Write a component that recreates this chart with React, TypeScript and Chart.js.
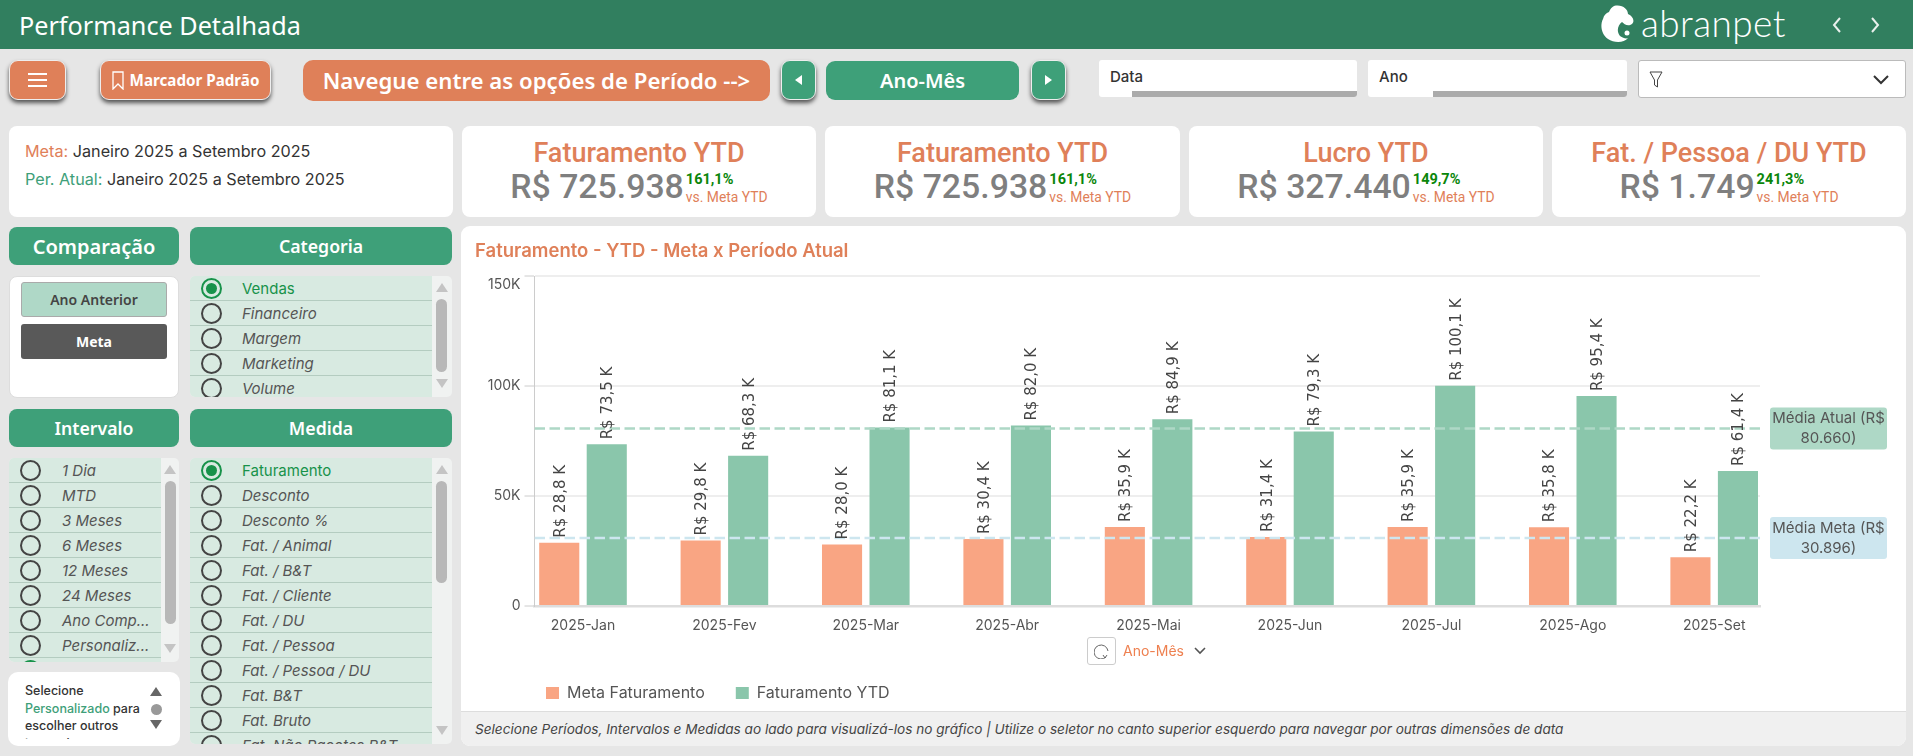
import { useEffect, useRef } from 'react';
import type { CSSProperties, ReactNode } from 'react';
import { Chart, registerables } from 'chart.js';

Chart.register(...registerables);

const meses = ['2025-Jan', '2025-Fev', '2025-Mar', '2025-Abr', '2025-Mai', '2025-Jun', '2025-Jul', '2025-Ago', '2025-Set'];
const metaFaturamento = [28.8, 29.8, 28.0, 30.4, 35.9, 31.4, 35.9, 35.8, 22.2];
const faturamentoYtd = [73.5, 68.3, 81.1, 82.0, 84.9, 79.3, 100.1, 95.4, 61.4];
const mediaAtual = 80.66;
const mediaMeta = 30.896;
const mediaAtualTexto = ['Média Atual (R$', '80.660)'];
const mediaMetaTexto = ['Média Meta (R$', '30.896)'];

const categorias = ['Vendas', 'Financeiro', 'Margem', 'Marketing', 'Volume'];
const intervalos = ['1 Dia', 'MTD', '3 Meses', '6 Meses', '12 Meses', '24 Meses', 'Ano Comp...', 'Personaliz...', ''];
const medidas = ['Faturamento', 'Desconto', 'Desconto %', 'Fat. / Animal', 'Fat. / B&T', 'Fat. / Cliente', 'Fat. / DU', 'Fat. / Pessoa', 'Fat. / Pessoa / DU', 'Fat. B&T', 'Fat. Bruto', 'Fat. Não Pacotes B&T'];

const kpis = [
    { titulo: 'Faturamento YTD', valor: 'R$ 725.938', pct: '161,1%', left: 462, width: 354 },
    { titulo: 'Faturamento YTD', valor: 'R$ 725.938', pct: '161,1%', left: 825, width: 355 },
    { titulo: 'Lucro YTD', valor: 'R$ 327.440', pct: '149,7%', left: 1189, width: 354 },
    { titulo: 'Fat. / Pessoa / DU YTD', valor: 'R$ 1.749', pct: '241,3%', left: 1552, width: 354 },
];

const LARANJA = '#DF8059';
const VERDE = '#3EA079';
const UI = 'Inter, sans-serif';
const NOTO = '"Noto Sans", sans-serif';
const X_MIN = -0.343;
const X_MAX = 8.324;

function Box({ l, t, w, h, style, children }: { l: number; t: number; w: number; h: number; style?: CSSProperties; children?: ReactNode }) {
    return <div style={{ position: 'absolute', left: l, top: t, width: w, height: h, boxSizing: 'border-box', ...style }}>{children}</div>;
}

function Centro({ l, t, w, h, style, children }: { l: number; t: number; w: number; h: number; style?: CSSProperties; children?: ReactNode }) {
    return <Box l={l} t={t} w={w} h={h} style={{ display: 'flex', alignItems: 'center', justifyContent: 'center', ...style }}>{children}</Box>;
}

const sombra: CSSProperties = { boxShadow: '0 3px 4px #555', border: '1px solid #eee' };

function Seta({ x, y, cima, cor = '#c4c4c4' }: { x: number; y: number; cima: boolean; cor?: string }) {
    return <div style={{
        position: 'absolute', left: x - 6, top: y - 4, width: 0, height: 0,
        borderLeft: '6px solid transparent', borderRight: '6px solid transparent',
        ...(cima ? { borderBottom: `9px solid ${cor}` } : { borderTop: `9px solid ${cor}` }),
    }} />;
}

function Lista({ l, t, w, h, itens, radioX, textoX, barra, thumbTop, thumbH, setaBaixo, selecionado }: {
    l: number; t: number; w: number; h: number; itens: string[]; radioX: number; textoX: number; barra: number;
    thumbTop: number; thumbH: number; setaBaixo: number; selecionado: number;
}) {
    return (
        <Box l={l} t={t} w={w} h={h} style={{ overflow: 'hidden', borderRadius: 5, background: '#F0F2F1' }}>
            {itens.map((item, i) => {
                const ativo = i === selecionado;
                return (
                    <div key={i} style={{ position: 'absolute', left: 0, top: i * 25, width: w - barra, height: 25, boxSizing: 'border-box', background: '#D8EAE1', borderBottom: '1px solid #B4CCC0' }}>
                        <div style={{ position: 'absolute', left: radioX - 11, top: 1.5, width: 21, height: 21, boxSizing: 'border-box', borderRadius: '50%', border: `2px solid ${ativo ? '#17924A' : '#444'}` }}>
                            {ativo && <div style={{ position: 'absolute', left: 3, top: 3, width: 11, height: 11, borderRadius: '50%', background: '#17924A' }} />}
                        </div>
                        <div style={{ position: 'absolute', left: textoX, top: 3, fontFamily: UI, fontSize: 15, lineHeight: '20px', whiteSpace: 'nowrap', fontStyle: ativo ? 'normal' : 'italic', color: ativo ? '#17924A' : '#555' }}>{item}</div>
                    </div>
                );
            })}
            <Seta x={w - barra / 2} y={11} cima />
            <div style={{ position: 'absolute', left: w - barra + 4, top: thumbTop, width: 11, height: thumbH, borderRadius: 6, background: '#B8B8B8' }} />
            <Seta x={w - barra / 2} y={setaBaixo} cima={false} />
        </Box>
    );
}

function Cabecalho({ l, t, w, texto, tamanho = 17.7 }: { l: number; t: number; w: number; texto: string; tamanho?: number }) {
    return <Centro l={l} t={t} w={w} h={38} style={{ background: VERDE, borderRadius: 8, color: '#fff', fontFamily: NOTO, fontWeight: 600, fontSize: tamanho }}>{texto}</Centro>;
}

export default function App() {
    const canvasRef = useRef<HTMLCanvasElement>(null);

    useEffect(() => {
        if (!canvasRef.current) return;

        // rótulos das barras e caixas das médias, desenhados sobre as escalas
        const rotulos = {
            id: 'rotulos',
            afterLayout(chart: any) {
                chart.legend.left = 54;
                chart.legend.top = 428;
            },
            afterDatasetsDraw(chart: any) {
                const ctx = chart.ctx;
                ctx.save();
                ctx.fillStyle = '#444';
                ctx.font = '15px "DejaVu Sans"';
                ctx.textAlign = 'left';
                ctx.textBaseline = 'middle';
                [0, 1].forEach((d) => {
                    chart.getDatasetMeta(d).data.forEach((bar: any, i: number) => {
                        const v = chart.data.datasets[d].data[i].y;
                        ctx.save();
                        ctx.translate(bar.x, bar.y - 5);
                        ctx.rotate(-Math.PI / 2);
                        ctx.fillText(`R$ ${v.toFixed(1).replace('.', ',')} K`, 0, 1.5);
                        ctx.restore();
                    });
                });
                const caixa = (valor: number, linhas: string[], cor: string) => {
                    const y = chart.scales.y.getPixelForValue(valor);
                    const x = chart.chartArea.right + 10;
                    ctx.fillStyle = cor;
                    ctx.beginPath();
                    ctx.roundRect(x, y - 21, 117, 42, 3);
                    ctx.fill();
                    ctx.fillStyle = '#555';
                    ctx.font = '15px Inter';
                    ctx.textAlign = 'center';
                    ctx.fillText(linhas[0], x + 58.5, y - 10);
                    ctx.fillText(linhas[1], x + 58.5, y + 10);
                };
                caixa(mediaAtual, mediaAtualTexto, '#AED8C6');
                caixa(mediaMeta, mediaMetaTexto, '#CDE6EF');
                ctx.restore();
            },
        };

        const chart = new Chart(canvasRef.current as any, {
            type: 'bar',
            data: {
                datasets: [
                    {
                        type: 'bar',
                        label: 'Meta Faturamento',
                        data: metaFaturamento.map((y, x) => ({ x, y })),
                        backgroundColor: '#F9A583',
                        order: 1,
                    },
                    {
                        type: 'bar',
                        label: 'Faturamento YTD',
                        data: faturamentoYtd.map((y, x) => ({ x, y })),
                        backgroundColor: '#8AC6AB',
                        order: 1,
                    },
                    {
                        type: 'line',
                        label: 'Média Atual',
                        data: [{ x: X_MIN, y: mediaAtual }, { x: X_MAX, y: mediaAtual }],
                        borderColor: '#AED8C6',
                        borderWidth: 2.5,
                        borderDash: [10.5, 4.5],
                        pointRadius: 0,
                        order: 0,
                    },
                    {
                        type: 'line',
                        label: 'Média Meta',
                        data: [{ x: X_MIN, y: mediaMeta }, { x: X_MAX, y: mediaMeta }],
                        borderColor: '#CDE6EF',
                        borderWidth: 2.5,
                        borderDash: [10.5, 4.5],
                        pointRadius: 0,
                        order: 0,
                    },
                ] as any,
            },
            options: {
                responsive: false,
                animation: false,
                layout: { padding: { top: 50, right: 146, left: 0, bottom: 0 } },
                datasets: { bar: { categoryPercentage: 0.672, barPercentage: 0.844 } },
                scales: {
                    x: {
                        type: 'linear',
                        offset: false,
                        min: X_MIN,
                        max: X_MAX,
                        afterFit: (s: any) => { s.height = 48; },
                        grid: { display: false },
                        border: { color: '#DDDDDD', width: 2.5 },
                        ticks: {
                            stepSize: 1,
                            includeBounds: false,
                            autoSkip: false,
                            maxRotation: 0,
                            padding: 3,
                            color: '#555',
                            font: { family: 'Inter', size: 14 },
                            callback: (v: any) => meses[v] ?? '',
                        },
                    },
                    y: {
                        min: 0,
                        max: 150,
                        afterFit: (s: any) => { s.width = 73.5; },
                        grid: { color: '#EEEEEE', lineWidth: 2, tickColor: '#CCCCCC', tickWidth: 1, tickLength: 10 },
                        border: { color: '#CCCCCC', width: 1 },
                        ticks: {
                            stepSize: 50,
                            padding: 4,
                            color: '#555',
                            font: { family: 'Inter', size: 14 },
                            // o rótulo do topo fica abaixo da marca, como no painel
                            callback: (v: any) => (v === 150 ? ['', '150K'] : v === 0 ? '0' : `${v}K`),
                        },
                    },
                },
                plugins: {
                    tooltip: { enabled: false },
                    legend: {
                        position: 'bottom',
                        align: 'start',
                        labels: {
                            boxWidth: 13,
                            boxHeight: 12,
                            padding: 31,
                            color: '#555',
                            font: { family: 'Inter', size: 16 },
                            filter: (item: any) => item.datasetIndex < 2,
                        },
                    },
                },
            } as any,
            plugins: [rotulos],
        });

        return () => chart.destroy();
    }, []);

    return (
        <div style={{ position: 'absolute', left: 0, top: 0, width: 1913, height: 756, background: '#E6E6E6', overflow: 'hidden', fontFamily: UI }}>
            {/* topo */}
            <Box l={0} t={0} w={1913} h={49} style={{ background: '#317F5F' }} />
            <div style={{ position: 'absolute', left: 19, top: 7, color: '#fff', fontFamily: NOTO, fontSize: 25.2, lineHeight: '36px' }}>Performance Detalhada</div>
            <svg style={{ position: 'absolute', left: 1600, top: 5 }} width={36} height={38} viewBox="0 0 36 38">
                <path d="M14 1 C22 -1 28 4 28 9 C33 11 35 16 32 19 C28 22 24 19 22 17 C18 20 16 26 20 31 C23 33 26 34 28 33 C24 38 14 38 8 34 C1 29 0 20 3 14 C4 10 6 8 9 7 C10 4 12 2 14 1 Z" fill="#fff" />
                <circle cx="27" cy="28" r="2.5" fill="#fff" />
            </svg>
            <div style={{ position: 'absolute', left: 1641, top: -1, color: '#fff', fontFamily: 'Lato, sans-serif', fontWeight: 300, fontSize: 37, lineHeight: '48px', letterSpacing: 0.4 }}>abranpet</div>
            <svg style={{ position: 'absolute', left: 1830, top: 15 }} width={52} height={20} viewBox="0 0 52 20" fill="none" stroke="#E8F0EC" strokeWidth={2}>
                <polyline points="10,3 4,10 10,17" />
                <polyline points="42,3 48,10 42,17" />
            </svg>

            {/* barra de botões */}
            <Centro l={9} t={60} w={57} h={40} style={{ ...sombra, background: LARANJA, borderRadius: 9 }}>
                <svg width={19} height={16} stroke="#fff" strokeWidth={2.2}><path d="M0 2H19M0 8H19M0 14H19" /></svg>
            </Centro>
            <Centro l={100} t={60} w={171} h={40} style={{ ...sombra, background: LARANJA, borderRadius: 9, color: '#fff', fontFamily: NOTO, fontWeight: 700, fontSize: 15.2, gap: 6 }}>
                <svg width={12} height={19} fill="none" stroke="#fff" strokeWidth={1.3}><path d="M1 1H11V18L6 13L1 18Z" /></svg>
                Marcador Padrão
            </Centro>
            <Centro l={303} t={60} w={467} h={41} style={{ background: LARANJA, borderRadius: 10, color: '#fff', fontFamily: NOTO, fontWeight: 600, fontSize: 22.2 }}>Navegue entre as opções de Período --&gt;</Centro>
            <Centro l={781} t={60} w={35} h={40} style={{ ...sombra, background: VERDE, borderRadius: 9 }}>
                <svg width={7} height={10} fill="#fff"><path d="M7 0V10L0 5Z" /></svg>
            </Centro>
            <Centro l={826} t={61} w={193} h={39} style={{ background: VERDE, borderRadius: 9, color: '#fff', fontFamily: NOTO, fontWeight: 600, fontSize: 20 }}>Ano-Mês</Centro>
            <Centro l={1031} t={60} w={35} h={40} style={{ ...sombra, background: VERDE, borderRadius: 9 }}>
                <svg width={7} height={10} fill="#fff"><path d="M0 0V10L7 5Z" /></svg>
            </Centro>

            {/* segmentadores */}
            <Box l={1099} t={60} w={258} h={37} style={{ background: '#fff', borderRadius: 3, overflow: 'hidden' }}>
                <div style={{ position: 'absolute', left: 11, top: 7, fontSize: 15, fontWeight: 500, color: '#333' }}>Data</div>
                <div style={{ position: 'absolute', left: 33, right: 0, bottom: 0, height: 6, background: '#ABABAB' }} />
            </Box>
            <Box l={1368} t={60} w={259} h={37} style={{ background: '#fff', borderRadius: 3, overflow: 'hidden' }}>
                <div style={{ position: 'absolute', left: 11, top: 7, fontSize: 15, fontWeight: 500, color: '#333' }}>Ano</div>
                <div style={{ position: 'absolute', left: 65, right: 0, bottom: 0, height: 6, background: '#ABABAB' }} />
            </Box>
            <Box l={1638} t={60} w={268} h={38} style={{ background: '#fff', borderRadius: 3, border: '1px solid #bbb' }}>
                <svg style={{ position: 'absolute', left: 10, top: 10 }} width={14} height={17} fill="none" stroke="#444" strokeWidth={1}><path d="M1 1H13L8.5 9V16L5.5 14V9Z" /></svg>
                <svg style={{ position: 'absolute', left: 234, top: 14 }} width={16} height={10} fill="none" stroke="#333" strokeWidth={2}><polyline points="1,1 8,8 15,1" /></svg>
            </Box>

            {/* cartões */}
            <Box l={9} t={126} w={444} h={91} style={{ background: '#fff', borderRadius: 8, fontSize: 16.2, color: '#333' }}>
                <div style={{ position: 'absolute', left: 16, top: 15, whiteSpace: 'nowrap' }}><span style={{ color: LARANJA }}>Meta:</span> Janeiro 2025 a Setembro 2025</div>
                <div style={{ position: 'absolute', left: 16, top: 43, whiteSpace: 'nowrap' }}><span style={{ color: VERDE }}>Per. Atual:</span> Janeiro 2025 a Setembro 2025</div>
            </Box>
            {kpis.map((k, i) => (
                <Box key={i} l={k.left} t={126} w={k.width} h={91} style={{ background: '#fff', borderRadius: 8, fontFamily: 'Roboto, sans-serif' }}>
                    <div style={{ position: 'absolute', left: 0, right: 0, top: 10, textAlign: 'center', color: LARANJA, fontSize: 27, lineHeight: '34px', fontWeight: 500 }}>{k.titulo}</div>
                    <div style={{ position: 'absolute', left: 0, right: 0, top: 38, display: 'flex', justifyContent: 'center', alignItems: 'flex-start' }}>
                        <div style={{ color: '#7F7F7F', fontSize: 33.8, lineHeight: '46px', fontWeight: 500 }}>{k.valor}</div>
                        <div style={{ marginLeft: 2 }}>
                            <div style={{ color: '#0A860A', fontSize: 14.5, lineHeight: '18px', fontWeight: 700, marginTop: 7 }}>{k.pct}</div>
                            <div style={{ color: LARANJA, fontSize: 13.9, lineHeight: '17px', marginTop: 0 }}>vs. Meta YTD</div>
                        </div>
                    </div>
                </Box>
            ))}

            {/* coluna de filtros */}
            <Cabecalho l={9} t={227} w={170} texto="Comparação" tamanho={20} />
            <Cabecalho l={190} t={227} w={262} texto="Categoria" />
            <Box l={9} t={276} w={170} h={122} style={{ background: '#fff', borderRadius: 8, border: '1px solid #ddd' }} />
            <Centro l={21} t={282} w={146} h={35} style={{ background: '#AFD8C7', border: '1px solid #aaa', borderRadius: 3, color: '#444', fontFamily: NOTO, fontWeight: 600, fontSize: 14 }}>Ano Anterior</Centro>
            <Centro l={21} t={324} w={146} h={35} style={{ background: '#595959', borderRadius: 3, color: '#fff', fontFamily: NOTO, fontWeight: 700, fontSize: 14 }}>Meta</Centro>
            <Lista l={190} t={276} w={262} h={121} itens={categorias} radioX={22} textoX={52} barra={20} thumbTop={23} thumbH={73} setaBaixo={107} selecionado={0} />

            <Cabecalho l={9} t={409} w={170} texto="Intervalo" />
            <Cabecalho l={190} t={409} w={262} texto="Medida" />
            <Lista l={9} t={458} w={170} h={204} itens={intervalos} radioX={22} textoX={53} barra={18} thumbTop={23} thumbH={143} setaBaixo={190} selecionado={8} />
            <Lista l={190} t={458} w={262} h={286} itens={medidas} radioX={22} textoX={52} barra={20} thumbTop={23} thumbH={102} setaBaixo={272} selecionado={0} />

            <Box l={8} t={672} w={172} h={74} style={{ background: '#fff', borderRadius: 10, overflow: 'hidden' }}>
                <div style={{ position: 'absolute', left: 17, top: 10, width: 130, height: 57, overflow: 'hidden', fontSize: 12.5, lineHeight: '17.5px', color: '#333', fontWeight: 500, whiteSpace: 'nowrap' }}>
                    Selecione<br /><span style={{ color: VERDE }}>Personalizado</span> para<br />escolher outros<br />intervalos
                </div>
                <Seta x={148} y={19} cima cor="#666" />
                <div style={{ position: 'absolute', left: 143, top: 32, width: 11, height: 11, borderRadius: '50%', background: '#999' }} />
                <Seta x={148} y={52} cima={false} cor="#666" />
            </Box>

            {/* cartão do gráfico */}
            <Box l={461} t={226} w={1445} h={520} style={{ background: '#fff', borderRadius: 9, overflow: 'hidden' }}>
                <canvas ref={canvasRef} width={1445} height={485} style={{ position: 'absolute', left: 0, top: 0, display: 'block' }} />
                <Box l={0} t={485} w={1445} h={35} style={{ background: '#F0F0F0', borderTop: '1px solid #ddd' }}>
                    <div style={{ position: 'absolute', left: 14, top: 8, fontStyle: 'italic', fontSize: 13.6, lineHeight: '18px', color: '#444', whiteSpace: 'nowrap' }}>
                        Selecione Períodos, Intervalos e Medidas ao lado para visualizá-los no gráfico | Utilize o seletor no canto superior esquerdo para navegar por outras dimensões de data
                    </div>
                </Box>
            </Box>
            <div style={{ position: 'absolute', left: 475, top: 239, color: LARANJA, fontSize: 18.5, lineHeight: '22px', fontWeight: 600, whiteSpace: 'nowrap' }}>Faturamento - YTD - Meta x Período Atual</div>
            <Centro l={1087} t={637} w={29} h={28} style={{ border: '1px solid #ccc', borderRadius: 3, background: '#fff' }}>
                <svg width={16} height={16} fill="none" stroke="#666" strokeWidth={1}><path d="M12 14A7 7 0 1 1 14 8M9 12L11 15L13 12" /></svg>
            </Centro>
            <div style={{ position: 'absolute', left: 1123, top: 642, color: '#EE8050', fontSize: 14, lineHeight: '18px', whiteSpace: 'nowrap' }}>Ano-Mês</div>
            <svg style={{ position: 'absolute', left: 1194, top: 647 }} width={12} height={8} fill="none" stroke="#555" strokeWidth={1.6}><polyline points="1,1 6,6 11,1" /></svg>
        </div>
    );
}
